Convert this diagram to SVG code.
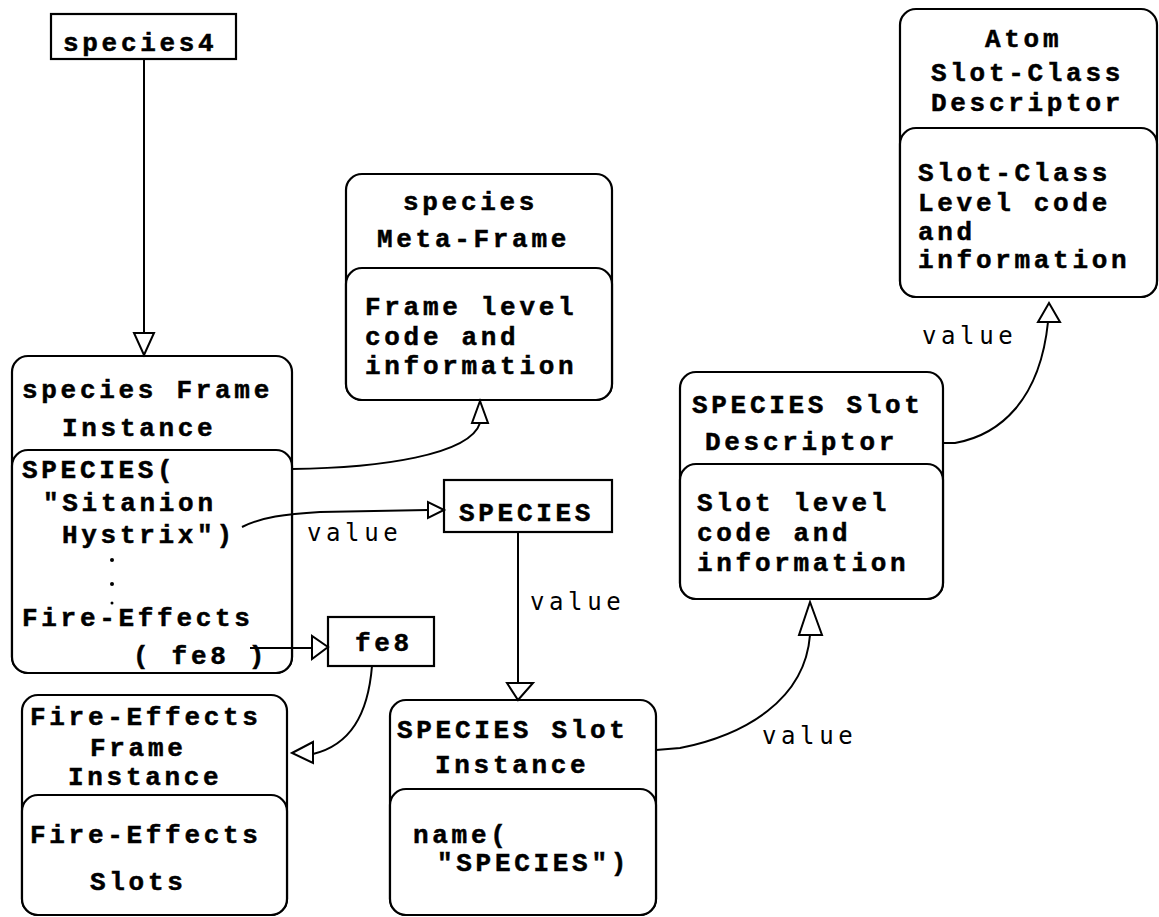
<svg xmlns="http://www.w3.org/2000/svg" width="1159" height="917" viewBox="0 0 1159 917">
<style>
.box{fill:#fff;stroke:#000;stroke-width:2.2}
.t{font-family:"Liberation Mono",monospace;font-weight:bold;font-size:26px;letter-spacing:3.7px;fill:#000;stroke:#000;stroke-width:0.5}
.v{font-family:"DejaVu Sans Mono","Liberation Mono",monospace;font-size:24px;letter-spacing:4.6px;fill:#000}
.c{fill:none;stroke:#000;stroke-width:2}
.ah{fill:#fff;stroke:#000;stroke-width:2;stroke-linejoin:miter}
</style>
<rect width="1159" height="917" fill="#fff"/>
<g id="species4">
<rect class="box" x="51" y="14" width="185" height="45"/>
<text class="t" x="63" y="51">species4</text>
</g>
<g id="meta-frame">
<rect class="box" x="346" y="174" width="266" height="226" rx="16"/>
<rect class="box" x="346" y="268" width="266" height="132" rx="16"/>
<text class="t" x="403" y="210">species</text>
<text class="t" x="377" y="247">Meta-Frame</text>
<text class="t" x="365" y="315">Frame level</text>
<text class="t" x="365" y="345">code and</text>
<text class="t" x="365" y="374">information</text>
</g>
<g id="atom-descriptor">
<rect class="box" x="900" y="9" width="257" height="288" rx="16"/>
<rect class="box" x="900" y="128" width="257" height="169" rx="16"/>
<text class="t" x="985" y="47">Atom</text>
<text class="t" x="931" y="81">Slot-Class</text>
<text class="t" x="931" y="111">Descriptor</text>
<text class="t" x="918" y="181">Slot-Class</text>
<text class="t" x="918" y="211">Level code</text>
<text class="t" x="918" y="240">and</text>
<text class="t" x="918" y="268">information</text>
</g>
<g id="frame-instance">
<rect class="box" x="12" y="356" width="280" height="317" rx="16"/>
<rect class="box" x="12" y="450" width="280" height="223" rx="16"/>
<text class="t" x="22" y="398">species Frame</text>
<text class="t" x="62" y="436">Instance</text>
<text class="t" x="22" y="478">SPECIES(</text>
<text class="t" x="43" y="511">"Sitanion</text>
<text class="t" x="62" y="543">Hystrix")</text>
<circle cx="112" cy="560" r="2" fill="#000"/>
<circle cx="112" cy="584" r="2" fill="#000"/>
<circle cx="112" cy="603" r="1.5" fill="#000"/>
<text class="t" x="22" y="626">Fire-Effects</text>
<text class="t" x="133" y="664">( fe8 )</text>
</g>
<g id="species-box">
<rect class="box" x="444" y="480" width="168" height="52"/>
<text class="t" x="459" y="521">SPECIES</text>
</g>
<g id="fe8">
<rect class="box" x="328" y="617" width="106" height="49"/>
<text class="t" x="355" y="651">fe8</text>
</g>
<g id="slot-descriptor">
<rect class="box" x="680" y="372" width="263" height="227" rx="16"/>
<rect class="box" x="680" y="464" width="263" height="135" rx="16"/>
<text class="t" x="692" y="413">SPECIES Slot</text>
<text class="t" x="705" y="450">Descriptor</text>
<text class="t" x="697" y="511">Slot level</text>
<text class="t" x="697" y="541">code and</text>
<text class="t" x="697" y="571">information</text>
</g>
<g id="fire-effects-instance">
<rect class="box" x="22" y="695" width="265" height="220" rx="16"/>
<rect class="box" x="22" y="795" width="265" height="120" rx="16"/>
<text class="t" x="30" y="725">Fire-Effects</text>
<text class="t" x="90" y="756">Frame</text>
<text class="t" x="68" y="785">Instance</text>
<text class="t" x="30" y="843">Fire-Effects</text>
<text class="t" x="90" y="890">Slots</text>
</g>
<g id="slot-instance">
<rect class="box" x="390" y="700" width="266" height="215" rx="16"/>
<rect class="box" x="390" y="789" width="266" height="126" rx="16"/>
<text class="t" x="397" y="738">SPECIES Slot</text>
<text class="t" x="435" y="773">Instance</text>
<text class="t" x="413" y="843">name(</text>
<text class="t" x="437" y="871">"SPECIES")</text>
</g>
<g id="connectors">
<line class="c" x1="144" y1="59" x2="144" y2="333"/>
<polygon class="ah" points="134,333 154,333 144,355"/>
<path class="c" d="M292,469 C380,468 470,455 480,423"/>
<polygon class="ah" points="480,401 472,423 488,423"/>
<path class="c" d="M242,527 C262,517 285,514 320,512 L428,510"/>
<polygon class="ah" points="444,510 428,502 428,518"/>
<line class="c" x1="250" y1="648" x2="312" y2="648"/>
<polygon class="ah" points="328,647 312,636 312,659"/>
<line class="c" x1="518" y1="532" x2="518" y2="683"/>
<polygon class="ah" points="507,683 533,683 518,700"/>
<path class="c" d="M372,666 C368,715 350,745 313,754"/>
<polygon class="ah" points="292,753 313,742 313,763"/>
<path class="c" d="M656,750 L680,748 C745,735 805,700 810,635"/>
<polygon class="ah" points="810,602 799,635 822,635"/>
<path class="c" d="M943,443 L955,443 C1000,435 1040,400 1048,322"/>
<polygon class="ah" points="1049,303 1038,322 1060,322"/>
<text class="v" x="307" y="541">value</text>
<text class="v" x="530" y="610">value</text>
<text class="v" x="762" y="744">value</text>
<text class="v" x="922" y="344">value</text>
</g>
</svg>
